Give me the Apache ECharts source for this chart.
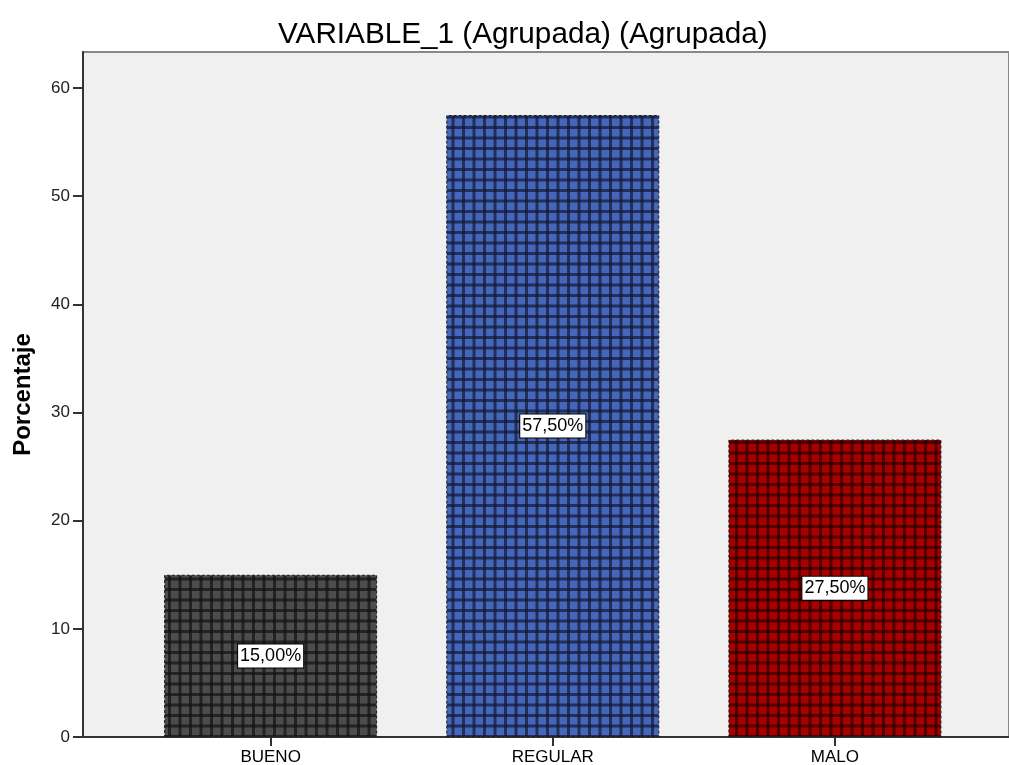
<!DOCTYPE html>
<html>
<head>
<meta charset="utf-8">
<script src="https://cdn.jsdelivr.net/npm/echarts@6/dist/echarts.min.js"></script>
<style>html,body{margin:0;padding:0;background:#fff}#c{width:1009px;height:765px}</style>
</head>
<body>
<div id="c"></div>
<script>
const title = 'VARIABLE_1 (Agrupada) (Agrupada)';
const categories = ['BUENO', 'REGULAR', 'MALO'];
const values = [15.0, 57.5, 27.5];
const yTicks = [0, 10, 20, 30, 40, 50, 60];
const yName = 'Porcentaje';

const palette = [
  { fill: '#4c4c4c', line: '#121212' },
  { fill: '#4466bb', line: '#121830' },
  { fill: '#a80000', line: '#2c0000' }
];

function makePattern(fill, line) {
  const s = 21;
  const c = document.createElement('canvas');
  c.width = s; c.height = s;
  const g = c.getContext('2d');
  g.fillStyle = fill;
  g.fillRect(0, 0, s, s);
  g.fillStyle = line;
  g.globalAlpha = 0.7;
  g.fillRect(0, 0, 3, s);
  g.fillRect(10.5, 0, 3, s);
  g.fillRect(0, 0, s, 3);
  g.fillRect(0, 10.5, s, 3);
  return c;
}

const FONT = 'Arial, "Liberation Sans", sans-serif';
const chart = echarts.init(document.getElementById('c'), null, { renderer: 'canvas' });

const data = values.map((v, i) => ({
  value: [i, v],
  itemStyle: {
    color: { image: makePattern(palette[i].fill, palette[i].line), repeat: 'repeat' },
    borderColor: '#1a1a1a',
    borderWidth: 1,
    borderType: [3, 2]
  }
}));

chart.setOption({
  animation: false,
  title: {
    text: title,
    left: 273,
    top: 15,
    textStyle: { fontFamily: FONT, fontSize: 29.7, fontWeight: 'normal', color: '#000' }
  },
  grid: {
    left: 83, right: 0, top: 52, bottom: 28,
    outerBoundsMode: 'none',
    containLabel: false,
    show: true, backgroundColor: '#f0f0f0', borderColor: '#888', borderWidth: 2
  },
  xAxis: {
    type: 'value',
    min: -0.665,
    max: 2.617,
    splitLine: { show: false },
    axisLine: { show: true, onZero: false, lineStyle: { color: '#333', width: 2 } },
    axisTick: { show: true, length: 9, customValues: [0, 1, 2], lineStyle: { color: '#333', width: 2 } },
    axisLabel: {
      customValues: [0, 1, 2],
      formatter: v => categories[Math.round(v)] || '',
      fontFamily: FONT, fontSize: 17, color: '#000', margin: 12
    }
  },
  yAxis: {
    type: 'value',
    min: 0,
    max: 63.33,
    name: yName,
    nameLocation: 'middle',
    nameGap: 48,
    nameRotate: 90,
    nameTextStyle: { fontFamily: FONT, fontSize: 24, fontWeight: 'bold', color: '#000' },
    splitLine: { show: false },
    axisLine: { show: true, onZero: false, lineStyle: { color: '#333', width: 2 } },
    axisTick: { show: true, length: 10, customValues: yTicks, lineStyle: { color: '#333', width: 2 } },
    axisLabel: {
      customValues: yTicks,
      fontFamily: FONT, fontSize: 17, color: '#222', margin: 13
    }
  },
  series: [{
    type: 'bar',
    barWidth: 213,
    data: data,
    label: {
      show: true,
      position: 'inside',
      formatter: p => p.value[1].toFixed(2).replace('.', ',') + '%',
      fontFamily: FONT, fontSize: 18, color: '#000',
      backgroundColor: '#fff', borderColor: '#000', borderWidth: 1,
      padding: [3, 2, 2, 2]
    }
  }]
});
</script>
</body>
</html>
